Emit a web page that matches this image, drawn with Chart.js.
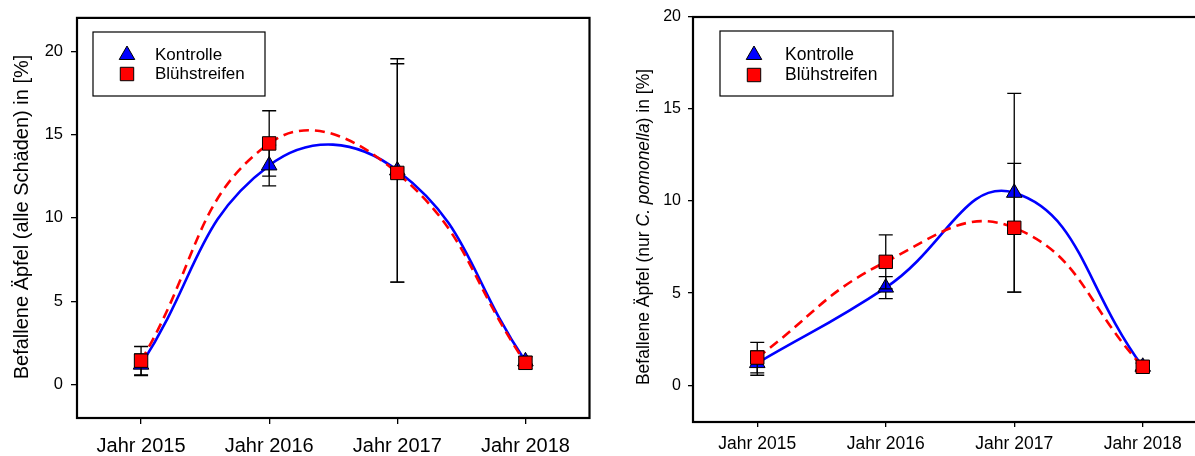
<!DOCTYPE html>
<html>
<head>
<meta charset="utf-8">
<script src="https://cdn.jsdelivr.net/npm/chart.js@4.4.0/dist/chart.umd.min.js"></script>
<style>
  html, body { margin: 0; padding: 0; background: #fff; overflow: hidden; width: 1195px; height: 456px; }
  #left { position: absolute; left: 0; top: 0; }
  #right { position: absolute; left: 600px; top: 0; }
</style>
</head>
<body>
<canvas id="left" width="600" height="456"></canvas>
<canvas id="right" width="630" height="456"></canvas>
<script>
const years = ['Jahr 2015', 'Jahr 2016', 'Jahr 2017', 'Jahr 2018'];
const yTicks = [0, 5, 10, 15, 20];

// left panel: alle Schäden
const kontrolleAlle = [1.2, 13.15, 12.85, 1.4];
const kontrolleAlleErr = [0.65, 1.22, 6.7, 0.3];
const bluehAlle = [1.44, 14.47, 12.7, 1.31];
const bluehAlleErr = [0.85, 1.96, 6.55, 0.36];

// right panel: nur C. pomonella
const kontrollePom = [1.2, 5.3, 10.45, 1.0];
const kontrollePomErr = [0.66, 0.6, 5.4, 0.2];
const bluehPom = [1.5, 6.7, 8.55, 1.0];
const bluehPomErr = [0.83, 1.47, 3.5, 0.2];

const FONT = '"Liberation Sans", Arial, sans-serif';

// error bars, drawn just before each dataset
const errorBars = {
  id: 'errorBars',
  beforeDatasetDraw(chart, args) {
    const ds = chart.data.datasets[args.index];
    if (!ds.errors) return;
    const ctx = chart.ctx, xs = chart.scales.x, ys = chart.scales.y;
    ctx.save();
    ctx.strokeStyle = '#000';
    ctx.lineWidth = 1.3;
    ds.data.forEach((v, i) => {
      const px = xs.getPixelForValue(i);
      const top = ys.getPixelForValue(v + ds.errors[i]);
      const bot = ys.getPixelForValue(v - ds.errors[i]);
      ctx.beginPath();
      ctx.moveTo(px, top); ctx.lineTo(px, bot);
      ctx.moveTo(px - 7, top); ctx.lineTo(px + 7, top);
      ctx.moveTo(px - 7, bot); ctx.lineTo(px + 7, bot);
      ctx.stroke();
    });
    ctx.restore();
  }
};

// frame, legend box and y title
function decor(cfg) {
  return {
    id: 'decor',
    afterDraw(chart) {
      const ctx = chart.ctx, a = chart.chartArea;
      ctx.save();
      ctx.strokeStyle = '#000';
      ctx.lineWidth = 2.2;
      ctx.strokeRect(a.left, a.top, a.right - a.left, a.bottom - a.top);

      // legend
      const L = cfg.legend;
      ctx.lineWidth = 1.2;
      ctx.strokeRect(L.x, L.y, L.w, L.h);
      ctx.font = L.size + 'px ' + FONT;
      ctx.textBaseline = 'middle';
      ctx.textAlign = 'left';
      chart.data.datasets.forEach((ds, i) => {
        const yy = L.y + L.first + i * L.step;
        ctx.fillStyle = ds.pointBackgroundColor;
        ctx.strokeStyle = '#000';
        ctx.lineWidth = 1;
        Chart.helpers.drawPoint(ctx, { pointStyle: ds.pointStyle, radius: ds.pointRadius, borderWidth: 1, rotation: 0 }, L.mx, yy);
        ctx.fillStyle = '#000';
        ctx.fillText(ds.label, L.tx, yy);
      });

      // rotated y axis title, with italic parts
      const T = cfg.title;
      ctx.translate(T.x, T.y);
      ctx.rotate(-Math.PI / 2);
      const fonts = T.parts.map(p => (p.italic ? 'italic ' : '') + T.size + 'px ' + FONT);
      let total = 0;
      const widths = T.parts.map((p, i) => { ctx.font = fonts[i]; const w = ctx.measureText(p.text).width; total += w; return w; });
      let x = -total / 2;
      ctx.fillStyle = '#000';
      ctx.textBaseline = 'middle';
      T.parts.forEach((p, i) => { ctx.font = fonts[i]; ctx.fillText(p.text, x, 0); x += widths[i]; });
      ctx.restore();
    }
  };
}

function makeChart(id, kontrolle, kontrolleErr, blueh, bluehErr, opt) {
  return new Chart(document.getElementById(id), {
    type: 'line',
    data: {
      labels: years,
      datasets: [
        {
          label: 'Kontrolle',
          data: kontrolle,
          errors: kontrolleErr,
          borderColor: '#0000ff',
          borderWidth: 2.6,
          tension: opt.tension,
          pointStyle: 'triangle',
          pointRadius: 9,
          pointBackgroundColor: '#0000ff',
          pointBorderColor: '#000',
          pointBorderWidth: 1,
          order: 2
        },
        {
          label: 'Blühstreifen',
          data: blueh,
          errors: bluehErr,
          borderColor: '#ff0000',
          borderWidth: 2.6,
          borderDash: [10, 6],
          tension: opt.tension,
          pointStyle: 'rect',
          pointRadius: 9.5,
          pointBackgroundColor: '#ff0000',
          pointBorderColor: '#000',
          pointBorderWidth: 1,
          order: 1
        }
      ]
    },
    options: {
      responsive: false,
      animation: false,
      events: [],
      devicePixelRatio: 1,
      layout: { padding: opt.padding },
      plugins: { legend: { display: false }, tooltip: { enabled: false } },
      scales: {
        x: {
          type: 'category',
          offset: true,
          border: { display: false },
          grid: { drawOnChartArea: false, drawTicks: true, tickLength: opt.tick, color: '#000', lineWidth: 1.3, offset: false },
          ticks: { color: '#000', font: { family: FONT, size: opt.xFont }, padding: opt.xPad, maxRotation: 0, autoSkip: false },
          afterFit(s) { s.height = opt.xHeight; }
        },
        y: {
          min: -2,
          max: opt.yMax,
          border: { display: false },
          grid: { drawOnChartArea: false, drawTicks: true, tickLength: opt.tick, color: '#000', lineWidth: 1.3 },
          ticks: { color: '#000', font: { family: FONT, size: opt.yFont }, padding: opt.yPad },
          afterBuildTicks(s) { s.ticks = yTicks.map(v => ({ value: v })); },
          afterFit(s) { s.width = opt.yWidth; }
        }
      }
    },
    plugins: [errorBars, decor(opt)]
  });
}

makeChart('left', kontrolleAlle, kontrolleAlleErr, bluehAlle, bluehAlleErr, {
  tension: 0.45, padding: { top: 16, right: 10, left: 0, bottom: 0 },
  tick: 6, xFont: 20, xPad: 10, xHeight: 38, yMax: 22, yFont: 16.5, yPad: 8, yWidth: 77,
  legend: { x: 93, y: 32, w: 172, h: 64, size: 17, first: 23, step: 19, mx: 127, tx: 155 },
  title: { x: 22, y: 217, size: 20, parts: [{ text: 'Befallene Äpfel (alle Schäden) in [%]' }] }
});

makeChart('right', kontrollePom, kontrollePomErr, bluehPom, bluehPomErr, {
  tension: 0.45, padding: { top: 17, right: 23, left: 0, bottom: 0 },
  tick: 5, xFont: 17.5, xPad: 7, xHeight: 34, yMax: 20, yFont: 16, yPad: 7, yWidth: 93,
  legend: { x: 120, y: 31, w: 173, h: 65, size: 17.5, first: 24, step: 20, mx: 154, tx: 185 },
  title: { x: 44, y: 227, size: 17.5, parts: [
    { text: 'Befallene Äpfel (nur ' },
    { text: 'C. pomonella', italic: true },
    { text: ') in [%]' }
  ] }
});
</script>
</body>
</html>
